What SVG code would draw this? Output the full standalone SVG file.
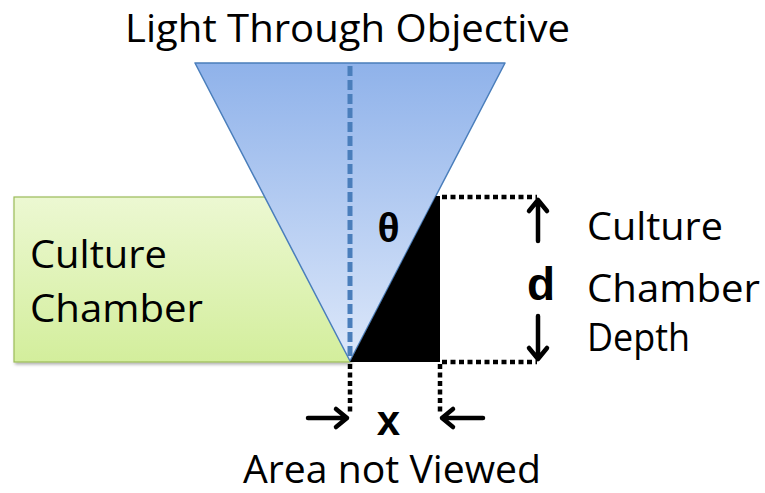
<svg xmlns="http://www.w3.org/2000/svg" width="765" height="493" viewBox="0 0 765 493">
<defs>
<linearGradient id="gBlue" x1="0" y1="0" x2="0" y2="1">
<stop offset="0" stop-color="#8fb2ea"/>
<stop offset="1" stop-color="#dde8fa"/>
</linearGradient>
<linearGradient id="gGreen" x1="0" y1="0" x2="0" y2="1">
<stop offset="0" stop-color="#ecf8d2"/>
<stop offset="1" stop-color="#d3ee9c"/>
</linearGradient>
<filter id="sh" x="-5%" y="-5%" width="110%" height="115%">
<feDropShadow dx="1.5" dy="2" stdDeviation="1.5" flood-color="#000" flood-opacity="0.3"/>
</filter>
</defs>
<style>
text{font-family:"Open Sans","Liberation Sans",sans-serif;fill:#000}
.t{font-size:39px}
.b{font-weight:bold;font-family:"Liberation Sans","Open Sans",sans-serif}
.dot{stroke:#000;stroke-width:4.5;stroke-dasharray:5 3.5;fill:none}
.arr{stroke:#000;stroke-width:4.5;fill:none;stroke-linecap:round;stroke-linejoin:round}
</style>
<g id="title"><text class="t" x="125" y="42" textLength="445" lengthAdjust="spacingAndGlyphs">Light Through Objective</text></g>
<g id="chamber">
<rect x="14" y="197" width="336" height="165" fill="url(#gGreen)" stroke="#9bbb59" stroke-width="1.2" filter="url(#sh)"/>
<text class="t" x="30" y="268" textLength="137" lengthAdjust="spacingAndGlyphs">Culture</text>
<text class="t" x="30" y="322" textLength="173" lengthAdjust="spacingAndGlyphs">Chamber</text>
</g>
<g id="cone">
<polygon points="195,63 505,63 350,361" fill="url(#gBlue)" stroke="#4a7ebb" stroke-width="1.5" stroke-linejoin="round"/>
<line x1="350" y1="66" x2="350" y2="360" stroke="#4a7ebb" stroke-width="5" stroke-dasharray="10 4"/>
<text class="b" x="388.5" y="242" font-size="41" text-anchor="middle">θ</text>
</g>
<g id="unviewed">
<polygon points="350,362 436,196 440,196 440,362" fill="#000"/>
</g>
<g id="connectors">
<path class="dot" d="M442 197 H537"/>
<path class="dot" d="M442 362 H537"/>
<path class="dot" d="M350 364 V412"/>
<path class="dot" d="M440 364 V412"/>
<path class="arr" d="M308 418 H347 M336 409 L347 418 L336 427"/>
<path class="arr" d="M483 418 H442 M453 409 L442 418 L453 427"/>
<path class="arr" d="M538 241 V200 M529 211 L538 200 L547 211"/>
<path class="arr" d="M538 316 V359 M529 348 L538 359 L547 348"/>
</g>
<g id="labels">
<text class="b" x="541" y="300" font-size="46" text-anchor="middle">d</text>
<text class="b" x="388.5" y="435" font-size="42" text-anchor="middle">x</text>
<text class="t" x="587" y="240" textLength="136" lengthAdjust="spacingAndGlyphs">Culture</text>
<text class="t" x="587" y="302" textLength="173" lengthAdjust="spacingAndGlyphs">Chamber</text>
<text class="t" x="587" y="351" textLength="103" lengthAdjust="spacingAndGlyphs">Depth</text>
<text class="t" x="243" y="483" textLength="298" lengthAdjust="spacingAndGlyphs">Area not Viewed</text>
</g>
</svg>
